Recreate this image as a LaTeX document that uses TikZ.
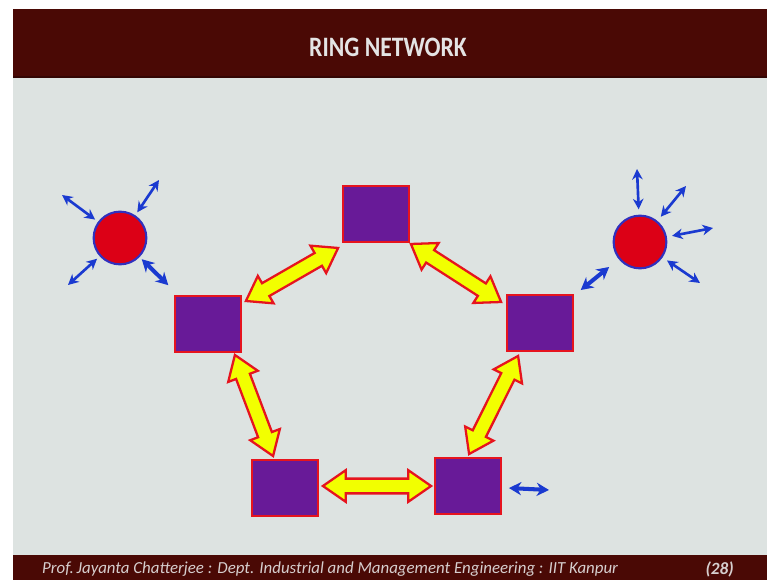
\documentclass[tikz,border=0pt]{standalone}
\usepackage{fontspec}
\setmainfont{Carlito}
\usetikzlibrary{calc,arrows.meta}

\definecolor{slidebg}{RGB}{221,227,225}
\definecolor{bandred}{RGB}{74,9,5}
\definecolor{titlegray}{RGB}{228,228,228}
\definecolor{footgray}{RGB}{214,206,206}
\definecolor{boxpurple}{RGB}{104,26,152}
\definecolor{edgered}{RGB}{230,20,30}
\definecolor{ballred}{RGB}{220,0,22}
\definecolor{ballblue}{RGB}{48,48,190}
\definecolor{linkblue}{RGB}{26,58,208}
\definecolor{ringyellow}{RGB}{242,255,0}

% geometry of the fat double arrows
\newcommand\fatHeadLen{13pt}
\newcommand\fatHeadHalf{9pt}
\newcommand\fatShaftHalf{4.2pt}

% fat yellow double arrow between two named points
\newcommand\fatlink[2]{%
  \filldraw[fatarrow] (#1)
    -- ($(#1)!\fatHeadLen!(#2)!\fatHeadHalf!90:(#2)$)
    -- ($(#1)!\fatHeadLen!(#2)!\fatShaftHalf!90:(#2)$)
    -- ($(#2)!\fatHeadLen!(#1)!\fatShaftHalf!-90:(#1)$)
    -- ($(#2)!\fatHeadLen!(#1)!\fatHeadHalf!-90:(#1)$)
    -- (#2)
    -- ($(#2)!\fatHeadLen!(#1)!\fatHeadHalf!90:(#1)$)
    -- ($(#2)!\fatHeadLen!(#1)!\fatShaftHalf!90:(#1)$)
    -- ($(#1)!\fatHeadLen!(#2)!\fatShaftHalf!-90:(#2)$)
    -- ($(#1)!\fatHeadLen!(#2)!\fatHeadHalf!-90:(#2)$)
    -- cycle;}

\tikzset{
  station/.style={rectangle, draw=edgered, fill=boxpurple, line width=1.2pt,
                  minimum width=37.4pt, minimum height=31.8pt, inner sep=0pt},
  hub/.style={circle, draw=ballblue, fill=ballred, line width=1.2pt,
              minimum size=30pt, inner sep=0pt},
  fatarrow/.style={fill=ringyellow, draw=edgered, line width=1.3pt, line join=miter},
  thinlink/.style={draw=linkblue, line width=1.5pt,
                   {Stealth[length=6pt,width=6pt]}-{Stealth[length=6pt,width=6pt]}},
  thicklink/.style={draw=linkblue, line width=2.3pt,
                    {Stealth[length=7pt,width=7.5pt]}-{Stealth[length=7pt,width=7.5pt]}},
}

\begin{document}
\begin{tikzpicture}[x=0.02cm,y=-0.02cm]
\useasboundingbox (0,0) rectangle (767,580);

% slide background, title band and footer band
\fill[white] (0,0) rectangle (767,580);
\fill[slidebg] (13,9) rectangle (767,580);
\fill[bandred] (13,9) rectangle (767,77);
\fill[bandred!70!black] (13,76) rectangle (767,78);
\fill[bandred] (13,555) rectangle (767,580);

\node[text=titlegray, font=\fontsize{16}{18}\selectfont\bfseries,
      transform shape, xscale=0.84] (title) at (388,47) {RING NETWORK};
\node[text=footgray, font=\fontsize{9.6}{11}\selectfont\itshape, anchor=west] (foot) at (36,569)
  {Prof.\,Jayanta Chatterjee : Dept. Industrial and Management Engineering : IIT Kanpur};
\node[text=footgray, font=\fontsize{9.8}{11}\selectfont\itshape\bfseries, anchor=east] (page) at (740,569) {(28)};

% ring stations
\node[station] (T)  at (376,214) {};
\node[station] (L)  at (208,324) {};
\node[station] (R)  at (540,323) {};
\node[station] (BL) at (285,488) {};
\node[station] (BR) at (468,486) {};

% hubs
\node[hub] (CL) at (120,238) {};
\node[hub] (CR) at (640,242) {};

% end points of the ring links
\coordinate (lt1) at ([shift={(4,6)}]L.north east);
\coordinate (lt2) at ([shift={(-4,5)}]T.south west);
\coordinate (tr1) at ([shift={(1,1)}]T.south east);
\coordinate (tr2) at ([shift={(-5,8)}]R.north west);
\coordinate (lb1) at ([shift={(-7,2)}]L.south east);
\coordinate (lb2) at ([shift={(22,-3)}]BL.north west);
\coordinate (rb1) at ([shift={(12,4)}]R.south west);
\coordinate (rb2) at ([shift={(35,-3)}]BR.north west);
\coordinate (bb1) at ([shift={(4,-2)}]BL.east);
\coordinate (bb2) at ([shift={(-3,0)}]BR.west);

\fatlink{lt1}{lt2}
\fatlink{tr1}{tr2}
\fatlink{lb1}{lb2}
\fatlink{rb1}{rb2}
\fatlink{bb1}{bb2}

% hub to station links
\draw[thicklink, shorten <=1.7pt, shorten >=8pt] (CL) -- (L);
\draw[thicklink, shorten <=7pt, shorten >=5pt] (CR) -- (R);

% free links around the left hub
\coordinate (cl1) at (62,195);
\coordinate (cl2) at (159,180);
\coordinate (cl3) at (68,285);
\draw[thinlink, shorten <=2pt] (CL) -- (cl1);
\draw[thinlink, shorten <=2pt] (CL) -- (cl2);
\draw[thinlink, shorten <=2pt] (CL) -- (cl3);

% free links around the right hub
\coordinate (cr1) at (637,169);
\coordinate (cr2) at (686,186);
\coordinate (cr3) at (713,228);
\coordinate (cr4) at (700,283);
\draw[thinlink, shorten <=3pt] (CR) -- (cr1);
\draw[thinlink, shorten <=3pt] (CR) -- (cr2);
\draw[thinlink, shorten <=3pt] (CR) -- (cr3);
\draw[thinlink, shorten <=3pt] (CR) -- (cr4);

% free link beside the lower right station
\coordinate (br1) at (549,490);
\draw[thicklink, shorten <=4pt] (BR) -- (br1);
\end{tikzpicture}
\end{document}
